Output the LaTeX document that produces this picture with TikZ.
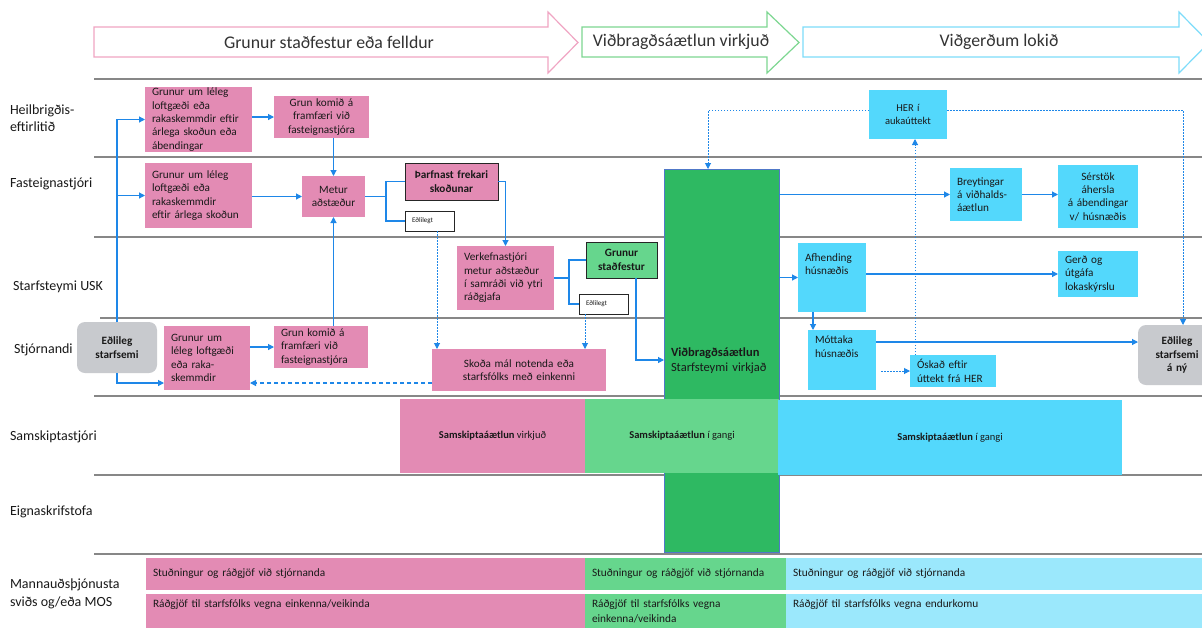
\documentclass[tikz,border=0pt]{standalone}
\usepackage{fontspec}
\setmainfont{Carlito}
\usetikzlibrary{arrows.meta}
\definecolor{pk}{RGB}{227,139,180}
\definecolor{lg}{RGB}{102,214,141}
\definecolor{dg}{RGB}{46,185,98}
\definecolor{cy}{RGB}{83,216,252}
\definecolor{lcy}{RGB}{155,232,252}
\definecolor{gb}{RGB}{200,202,206}
\definecolor{ln}{RGB}{30,135,232}
\definecolor{lanec}{RGB}{135,135,135}
\definecolor{hpk}{RGB}{240,165,195}
\definecolor{hgr}{RGB}{125,215,145}
\definecolor{hcy}{RGB}{125,220,250}
\definecolor{vbd}{RGB}{80,120,200}
\definecolor{txt}{RGB}{25,25,25}
\newcommand\mybox[8]{%
  \pgfmathsetmacro\myboxtw{#5-14}%
  \node[#2, minimum width=#5pt, minimum height=#6pt, text width=\myboxtw pt, align=#7] (#1) at (#3,#4) {#8};}
\tikzset{
  every node/.style={inner sep=0pt, outer sep=0pt, text=txt},
  bxs/.style={anchor=north west, inner xsep=7pt, inner ysep=0pt, font=\fontsize{11.2}{13.3}\selectfont},
  pinkbox/.style={bxs, fill=pk},
  pinkboxb/.style={bxs, fill=pk, draw=black!85, line width=1pt},
  greenboxb/.style={bxs, fill=lg, draw=black!85, line width=1pt},
  smallbox/.style={bxs, fill=white, draw=black!85, line width=0.9pt, font=\fontsize{7}{8}\selectfont\color{black!60}},
  graybox/.style={bxs, fill=gb, rounded corners=8pt},
  cybox/.style={bxs, fill=cy},
  cyboxs/.style={bxs, fill=cy, font=\fontsize{10.5}{12.5}\selectfont},
  samb/.style={anchor=north west, font=\fontsize{10.5}{12}\selectfont},
  rowpk/.style={bxs, fill=pk, font=\fontsize{11.3}{15}\selectfont},
  rowgr/.style={bxs, fill=lg, font=\fontsize{11.3}{15}\selectfont},
  rowcy/.style={bxs, fill=lcy, font=\fontsize{11.3}{15}\selectfont},
  lab/.style={anchor=west, align=left, font=\fontsize{14}{17.5}\selectfont},
  htext/.style={font=\fontsize{17.8}{19}\selectfont, text=black!80},
  harrow/.style={fill=white, line width=1.2pt},
  laneline/.style={draw=lanec, line width=2.4pt},
  conn/.style={draw=ln, line width=1.1pt, -{Triangle[length=6pt,width=6pt]}},
  plain/.style={draw=ln, line width=1.1pt},
  dotc/.style={draw=ln, line width=1pt, dash pattern=on 1.5pt off 1.5pt, -{Triangle[length=6pt,width=6pt]}},
  dashc/.style={draw=ln, line width=1.1pt, dash pattern=on 4pt off 3pt, -{Triangle[length=6pt,width=6pt]}}
}
\begin{document}
\begin{tikzpicture}[x=1pt,y=-1pt]
\useasboundingbox (0,0) rectangle (1202,630);
\fill[white] (0,0) rectangle (1202,630);

% header arrows
\draw[harrow, draw=hpk] (94,27) -- (548,27) -- (548,12) -- (578,42.5) -- (548,73) -- (548,57) -- (94,57) -- cycle;
\node[htext] (h1) at (329,42) {Grunur staðfestur eða felldur};
\draw[harrow, draw=hgr] (582,27) -- (767,27) -- (767,12) -- (799,42.5) -- (767,73) -- (767,57) -- (582,57) -- cycle;
\node[htext] (h2) at (681,42) {Viðbragðsáætlun virkjuð};
\draw[harrow, draw=hcy] (803,27) -- (1179,27) -- (1179,12) -- (1209,42.5) -- (1179,73) -- (1179,57) -- (803,57) -- cycle;
\node[htext] (h3) at (999,42) {Viðgerðum lokið};

% lane lines
\foreach \yy in {79,157,237,396,475,554} \draw[laneline] (94,\yy) -- (1202,\yy);
\draw[laneline] (100,318) -- (1202,318);

% lane labels
\node[lab] (L1) at (10,118) {Heilbrigðis-\\eftirlitið};
\node[lab] (L2) at (10,184) {Fasteignastjóri};
\node[lab] (L3) at (13,287) {Starfsteymi USK};
\node[lab] (L4) at (14,350) {Stjórnandi};
\node[lab] (L5) at (10,437) {Samskiptastjóri};
\node[lab] (L6) at (10,512) {Eignaskrifstofa};
\node[lab] (L7) at (10,594) {Mannauðsþjónusta\\sviðs og/eða MOS};

% big green box
\node[anchor=north west, fill=dg, draw=vbd, line width=0.8pt, minimum width=115pt, minimum height=383pt,
      text width=101pt, inner xsep=7pt, align=left, font=\fontsize{12.5}{15}\selectfont] (vb) at (664,169)
      {\textbf{Viðbragðsáætlun}\\Starfsteymi virkjað};

% Samskiptastjori
\node[samb, fill=pk, minimum width=185pt, minimum height=74pt] (sa1) at (400,399) {\textbf{Samskiptaáætlun} virkjuð};
\node[samb, fill=lg, minimum width=194pt, minimum height=74pt] (sa2) at (585,399) {\textbf{Samskiptaáætlun} í gangi};
\node[samb, fill=cy, minimum width=344pt, minimum height=75pt] (sa3) at (778,400) {\textbf{Samskiptaáætlun} í gangi};

% Mannaudsthjonusta rows
\mybox{m1}{rowpk}{146}{558}{439}{32}{left}{Stuðningur og ráðgjöf við stjórnanda}
\mybox{m2}{rowgr}{585}{558}{201}{32}{left}{Stuðningur og ráðgjöf við stjórnanda}
\mybox{m3}{rowcy}{786}{558}{416}{32}{left}{Stuðningur og ráðgjöf við stjórnanda}
\mybox{m4}{rowpk}{146}{594}{439}{34}{left}{Ráðgjöf til starfsfólks vegna einkenna/veikinda\\\mbox{}}
\mybox{m5}{rowgr}{585}{594}{201}{34}{left}{Ráðgjöf til starfsfólks vegna\\einkenna/veikinda}
\mybox{m6}{rowcy}{786}{594}{416}{34}{left}{Ráðgjöf til starfsfólks vegna endurkomu\\\mbox{}}

% left part boxes
\mybox{H1}{pinkbox}{145}{87}{107}{65}{left}{Grunur um léleg\\loftgæði eða\\rakaskemmdir eftir\\árlega skoðun eða\\ábendingar}
\mybox{H2}{pinkbox}{274}{96}{95}{42}{center}{Grun komið á\\framfæri við\\fasteignastjóra}
\mybox{F1}{pinkbox}{145}{163}{107}{65}{left}{Grunur um léleg\\loftgæði eða\\rakaskemmdir\\eftir árlega skoðun}
\mybox{met}{pinkbox}{302}{176}{63}{41}{center}{Metur\\aðstæður}
\mybox{tha}{pinkboxb}{405}{163}{93}{37}{center}{\textbf{Þarfnast frekari}\\\textbf{skoðunar}}
\mybox{e1}{smallbox}{405}{211}{49}{20}{left}{Eðlilegt}
\mybox{vk}{pinkbox}{457}{246}{97}{64}{left}{Verkefnastjóri\\metur aðstæður\\í samráði við ytri\\ráðgjafa}
\mybox{gs}{greenboxb}{586}{242}{71}{36}{center}{\textbf{Grunur}\\\textbf{staðfestur}}
\mybox{e2}{smallbox}{579}{294}{49}{20}{left}{Eðlilegt}
\mybox{sk}{pinkbox}{432}{349}{174}{42}{center}{Skoða mál notenda eða\\starfsfólks með einkenni}
\mybox{ed}{graybox}{77}{322}{80}{51}{center}{\textbf{Eðlileg}\\\textbf{starfsemi}}
\mybox{S1}{pinkbox}{164}{326}{86}{64}{left}{Grunur um\\léleg loftgæði\\eða raka-\\skemmdir}
\mybox{S2}{pinkbox}{274}{326}{94}{42}{left}{Grun komið á\\framfæri við\\fasteignastjóra}

% right part boxes
\mybox{her}{cyboxs}{869}{90}{78}{49}{center}{HER í\\aukaúttekt}
\mybox{br}{cybox}{950}{168}{72}{53}{left}{Breytingar\\á viðhalds-\\áætlun}
\mybox{se}{cybox}{1058}{165}{80}{63}{center}{Sérstök\\áhersla\\á ábendingar\\v/ húsnæðis}
\mybox{af}{cybox}{798}{243}{68}{69}{left}{Afhending\\húsnæðis\\\mbox{}\\\mbox{}}
\mybox{gd}{cybox}{1058}{251}{80}{46}{left}{Gerð og\\útgáfa\\lokaskýrslu}
\mybox{mo}{cybox}{808}{330}{68}{60}{left}{Móttaka\\húsnæðis\\\mbox{}\\\mbox{}}
\mybox{os}{cybox}{910}{355}{86}{32}{left}{Óskað eftir\\úttekt frá HER}
\mybox{ena}{graybox}{1138}{325}{78}{60}{center}{\textbf{Eðlileg}\\\textbf{starfsemi}\\\textbf{á ný}}

% helper coordinates
\coordinate (c636) at (636,360);
\coordinate (c437) at (437,0);
\coordinate (c585) at (585,0);
\coordinate (c383) at (0,383);
\coordinate (c813) at (813,0);
\coordinate (c342) at (0,342);
\coordinate (c881) at (881,0);
\coordinate (c915) at (915,0);
\coordinate (c110) at (0,110);
\coordinate (c708) at (708,0);
\coordinate (c1183) at (1183,0);

% connectors
\draw[conn] (ed.north) |- (H1.west);
\draw[conn] (ed.north) |- (F1.west);
\draw[conn] (ed.south) |- ([yshift=7pt]S1.south west);
\draw[conn] (H1.east |- H2.west) -- (H2.west);
\draw[conn] (met.north |- H2.south) -- (met.north);
\draw[conn] (F1.east |- met.west) -- (met.west);
\draw[conn] (met.south |- S2.north) -- (met.south);
\draw[conn] (S1.east |- S2.west) -- (S2.west);
\draw[plain] (met.east) -- ++(21,0) coordinate (b1);
\draw[plain] (b1) |- (tha.west);
\draw[plain] (b1) |- (e1.west);
\draw[conn] (tha.east) -| (vk.north);
\draw[plain] (vk.east) -- ++(15,0) coordinate (b2);
\draw[plain] (b2) |- (gs.west);
\draw[plain] (b2) |- (e2.west);
\draw[conn] (gs.south -| c636) |- (vb.west |- c636);
\draw[dotc] (e1.south -| c437) -- (sk.north -| c437);
\draw[dotc] (e2.south -| c585) -- (sk.north -| c585);
\draw[dashc] (sk.west |- c383) -- (S1.east |- c383);
\draw[conn] (vb.east |- br.west) -- (br.west);
\draw[conn] (br.east) -- (se.west |- br.east);
\draw[conn] (vb.east |- af.west) -- (af.west);
\draw[conn] (af.east |- gd.west) -- (gd.west);
\draw[conn] (af.south -| c813) -- (mo.north -| c813);
\draw[conn] (mo.east |- c342) -- (ena.west |- c342);
\draw[dotc] (os.west -| c881) -- (os.west);
\draw[dotc] (os.north -| c915) -- (her.south -| c915);
\draw[dotc] (her.west |- c110) -| (vb.north -| c708);
\draw[dotc] (her.east |- c110) -| (ena.north -| c1183);
\end{tikzpicture}
\end{document}
